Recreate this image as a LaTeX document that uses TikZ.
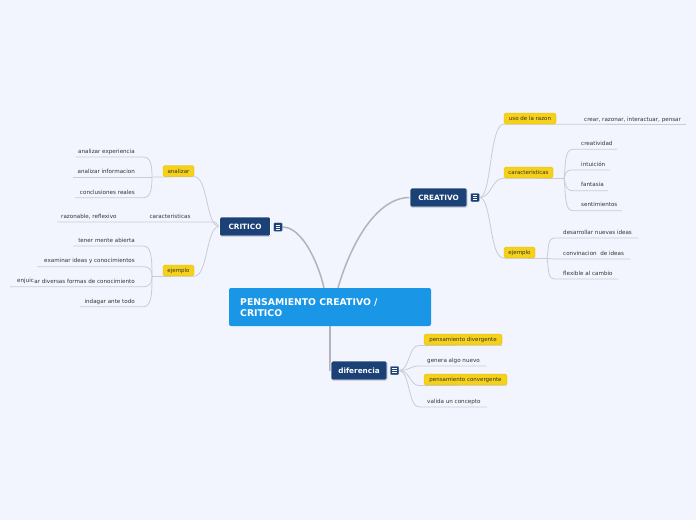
\documentclass[tikz,border=0pt]{standalone}
\usepackage{fontspec}
\setmainfont{DejaVu Sans}
\usetikzlibrary{shadows}
\definecolor{bg}{HTML}{F2F5FD}
\definecolor{dk}{HTML}{1B4176}
\definecolor{cb}{HTML}{1A96E6}
\definecolor{yl}{HTML}{F5D11A}
\definecolor{yld}{HTML}{DDB60A}
\definecolor{ln}{HTML}{B4B4B8}
\definecolor{sl}{HTML}{C8CCD6}
\definecolor{tx}{HTML}{333333}
\pgfdeclarelayer{bgfill}
\pgfdeclarelayer{background}
\pgfsetlayers{bgfill,background,main}
\newcommand{\menuicon}[1]{%
  \foreach \d in {-1.9,0,1.9}{\draw[white,line width=0.55pt] ([xshift=-2.3pt,yshift=\d pt]#1.center) -- ([xshift=2.3pt,yshift=\d pt]#1.center);}}
\begin{document}
\begin{tikzpicture}[x=1pt,y=-1pt,
 topic/.style={fill=dk, draw=white, line width=0.7pt, rounded corners=1.5pt, text=white, font=\bfseries\fontsize{7.3}{8}\selectfont, inner sep=0pt, drop shadow={shadow xshift=0.5pt,shadow yshift=-0.8pt,opacity=0.3}},
 central/.style={fill=cb, rounded corners=2pt, inner sep=0, minimum width=202pt, minimum height=38pt},
 icon/.style={fill=dk, draw=white!60!dk, line width=0.4pt, rounded corners=0.8pt, minimum size=8.5pt, inner sep=0},
 tag/.style={fill=yl, draw=yld, line width=0.3pt, rounded corners=1.5pt, inner sep=0, minimum height=11pt, font=\fontsize{5.5}{6}\selectfont, text=tx},
 leaf/.style={font=\fontsize{5.6}{6}\selectfont, text=tx, inner sep=0},
 trunk/.style={draw=ln, line width=1.5pt},
 twig/.style={draw=sl, line width=0.8pt},
]
\begin{pgfonlayer}{bgfill}
\fill[bg] (0,0) rectangle (696,520);
\end{pgfonlayer}
\useasboundingbox (0,0) rectangle (696,520);

% central
\node[central] (P) at (330,307) {};
\node[anchor=base west, text=white, font=\bfseries\fontsize{9.3}{11}\selectfont, inner sep=0] (Pt1) at (240,305.7) {PENSAMIENTO CREATIVO /};
\node[anchor=base west, text=white, font=\bfseries\fontsize{9.3}{11}\selectfont, inner sep=0] (Pt2) at (240,316.4) {CRITICO};

% main topics
\node[topic, minimum width=51pt, minimum height=19pt] (C) at (245,226.5) {CRITICO};
\node[icon] (CI) at (278,227) {}; \menuicon{CI}
\node[topic, minimum width=57pt, minimum height=19pt] (R) at (438.5,197.5) {CREATIVO};
\node[topic, minimum width=56pt, minimum height=19pt] (D) at (359,370.5) {diferencia};
\node[icon] (RI) at (475,197.5) {}; \menuicon{RI}
\node[icon] (DI) at (394.5,370.5) {}; \menuicon{DI}

% CRITICO side
\node[tag, minimum width=31pt] (ta) at (178.5,171) {analizar};
\node[tag, minimum width=31pt] (te) at (178.5,270.5) {ejemplo};
\node[leaf, anchor=base] (ck) at (170,218) {caracteristicas};
\node[leaf, anchor=base west] (ckr) at (61,218) {razonable, reflexivo};
\node[leaf, anchor=base east] (a1) at (135,153) {analizar experiencia};
\node[leaf, anchor=base east] (a2) at (135,173.5) {analizar informacion};
\node[leaf, anchor=base east] (a3) at (135,194) {conclusiones reales};
\node[leaf, anchor=base east] (e1) at (135,242) {tener mente abierta};
\node[leaf, anchor=base east] (e2) at (135,262.5) {examinar ideas y conocimientos};
\node[leaf, anchor=base east] (e3) at (135,283) {ar diversas formas de conocimiento};
\node[leaf, anchor=base east] (e3b) at ([yshift=1pt]e3.base west) {enjuic};
\node[leaf, anchor=base east] (e4) at (135,303) {indagar ante todo};

\coordinate (bA) at (152,177);
\coordinate (bE) at (152,276.5);
\coordinate (ckl) at (57,222);
\coordinate (ckm) at (214,222);
\coordinate (a1l) at (76,157);   \coordinate (a1r) at (143,157);
\coordinate (a2l) at (73,177);
\coordinate (a3l) at (75,197.7); \coordinate (a3r) at (143,197.7);
\coordinate (e1l) at (73,246);   \coordinate (e1r) at (143,246);
\coordinate (e2l) at (37,266.7); \coordinate (e2r) at (143,266.7);
\coordinate (e3l) at (10,286.7); \coordinate (e3r) at (143,286.7);
\coordinate (e4l) at (80,306.7); \coordinate (e4r) at (143,306.7);

% CREATIVO side
\node[tag, minimum width=52pt] (tu) at (530,118.5) {uso de la razon};
\node[tag, minimum width=49pt] (tc) at (528.5,172.5) {caracteristicas};
\node[tag, minimum width=31pt] (tj) at (519.5,252.5) {ejemplo};
\node[leaf, anchor=base west] (u1) at (584,121) {crear, razonar, interactuar, pensar};
\node[leaf, anchor=base west] (c1) at (581,145) {creatividad};
\node[leaf, anchor=base west] (c2) at (581,166) {intuición};
\node[leaf, anchor=base west] (c3) at (581,186.5) {fantasia};
\node[leaf, anchor=base west] (c4) at (581,206.5) {sentimientos};
\node[leaf, anchor=base west] (j1) at (563,234) {desarrollar nuevas ideas};
\node[leaf, anchor=base west] (j2) at (563,255) {convinacion\ \ de ideas};
\node[leaf, anchor=base west] (j3) at (563,275) {flexible al cambio};
\coordinate (u1r) at (686,124.5);
\coordinate (bC) at (564,178.5);
\coordinate (bJ) at (547,258.5);
\coordinate (c1l) at (573,149.3); \coordinate (c1r) at (617,149.3);
\coordinate (c2l) at (573,170);   \coordinate (c2r) at (610,170);
\coordinate (c3l) at (573,190.7); \coordinate (c3r) at (608,190.7);
\coordinate (c4l) at (573,210.7); \coordinate (c4r) at (622,210.7);
\coordinate (j1l) at (555,238);   \coordinate (j1r) at (638,238);
\coordinate (j2l) at (555,259);   \coordinate (j2r) at (630,259);
\coordinate (j3l) at (555,279);   \coordinate (j3r) at (618,279);

% diferencia side
\node[tag, minimum width=78pt] (d1) at (463,339.5) {pensamiento divergente};
\node[tag, minimum width=83pt] (d3) at (465.5,379.5) {pensamiento convergente};
\node[leaf, anchor=base west] (d2) at (427,362) {genera algo nuevo};
\node[leaf, anchor=base west] (d4) at (427,403) {valida un concepto};
\coordinate (d1l) at (419,345.5);
\coordinate (d2l) at (419,366);   \coordinate (d2r) at (486,366);
\coordinate (d3l) at (419,385.5);
\coordinate (d4l) at (419,407);   \coordinate (d4r) at (487,407);

\begin{pgfonlayer}{background}
% trunks
\draw[trunk] ([xshift=-6pt]P.north) .. controls (318,262) and (302,227) .. (CI.east);
\draw[trunk] ([xshift=8pt]P.north) .. controls (352,240) and (378,197.5) .. (R.west);
\draw[trunk] (P.south) -- (P.south |- D.west);
% CRITICO
\draw[twig] (C.west) .. controls (206,226.5) and (208,176.5) .. (ta.south east) -- (bA);
\draw[twig] (C.west) .. controls (217,224) and (216,222) .. (ckm) -- (ckl);
\draw[twig] (C.west) .. controls (206,226.5) and (208,276.5) .. (te.south east) -- (bE);
\draw[twig] (a1l) -- (a1r) .. controls (150,157) and (152,163) .. (bA);
\draw[twig] (a2l) -- (bA);
\draw[twig] (a3l) -- (a3r) .. controls (150,197.7) and (152,191) .. (bA);
\draw[twig] (e1l) -- (e1r) .. controls (151,246) and (152,256) .. (bE);
\draw[twig] (e2l) -- (e2r) .. controls (150,266.7) and (152,270) .. (bE);
\draw[twig] (e3l) -- (e3r) .. controls (150,286.7) and (152,283) .. (bE);
\draw[twig] (e4l) -- (e4r) .. controls (151,306.7) and (152,297) .. (bE);
% CREATIVO
\draw[twig] (RI.east) .. controls (492,197.5) and (489,124.5) .. (tu.south west) -- (u1r);
\draw[twig] (RI.east) .. controls (492,197.5) and (491,178.5) .. (tc.south west) -- (bC);
\draw[twig] (RI.east) .. controls (492,197.5) and (489,258.5) .. (tj.south west) -- (bJ);
\draw[twig] (bC) .. controls (566,165) and (564,149.3) .. (c1l) -- (c1r);
\draw[twig] (bC) .. controls (566,172) and (566,170) .. (c2l) -- (c2r);
\draw[twig] (bC) .. controls (566,186) and (566,190.7) .. (c3l) -- (c3r);
\draw[twig] (bC) .. controls (566,193) and (564,210.7) .. (c4l) -- (c4r);
\draw[twig] (bJ) .. controls (549,248) and (547,238) .. (j1l) -- (j1r);
\draw[twig] (bJ) -- (j2l) -- (j2r);
\draw[twig] (bJ) .. controls (549,268) and (547,279) .. (j3l) -- (j3r);
% diferencia
\draw[twig] (DI.east) .. controls (410,370.5) and (408,345.5) .. (d1l) -- (d1.south east);
\draw[twig] (DI.east) .. controls (410,370.5) and (410,366) .. (d2l) -- (d2r);
\draw[twig] (DI.east) .. controls (410,370.5) and (410,385.5) .. (d3l) -- (d3.south east);
\draw[twig] (DI.east) .. controls (410,370.5) and (408,407) .. (d4l) -- (d4r);
\end{pgfonlayer}
\end{tikzpicture}
\end{document}
